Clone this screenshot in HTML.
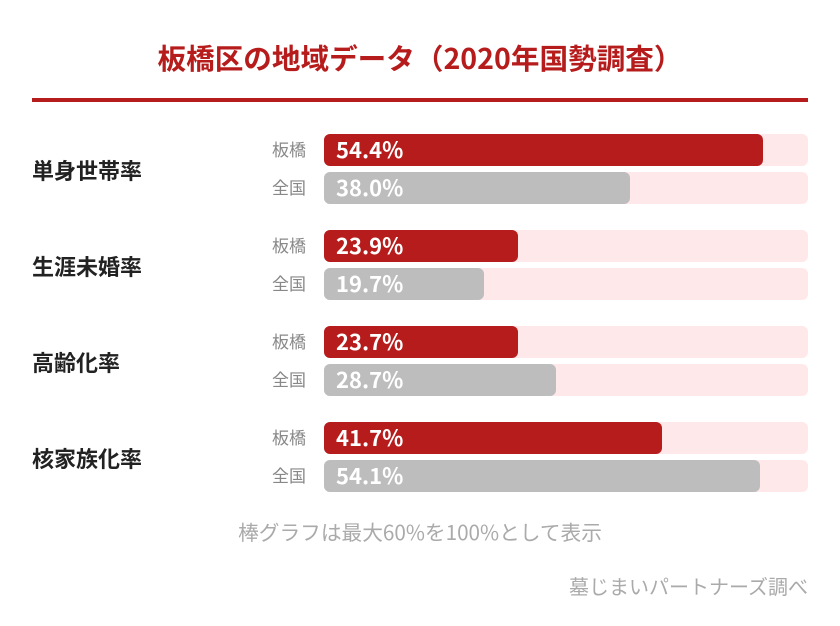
<!DOCTYPE html>
<html><head><meta charset="utf-8"><style>
body{margin:0;width:840px;height:626px;background:#fff;font-family:"Noto Sans CJK JP",sans-serif;position:relative;overflow:hidden}
.t{position:absolute;left:0;width:840px;top:38px;text-align:center;font-size:28.6px;font-weight:bold;color:#b71c1c;line-height:40px}
.ln{position:absolute;left:32px;width:776px;top:98px;height:4px;background:#b71c1c}
.cat{position:absolute;left:32px;font-size:22px;font-weight:bold;color:#222;line-height:30px}
.lb{position:absolute;left:272px;font-size:17px;color:#888;line-height:30px}
.tr{position:absolute;left:324px;width:484px;height:32px;background:#ffe8ea;border-radius:6px}
.b{position:absolute;left:0;top:0;height:32px;border-radius:6px;color:#fff;font-family:"Noto Sans CJK JP",sans-serif;font-weight:bold;font-size:22px;line-height:31px;padding-left:12px;box-sizing:border-box;white-space:nowrap}
.r{background:#b71c1c}.g{background:#bdbdbd}
.fn{position:absolute;left:0;width:840px;top:516px;text-align:center;font-size:20.7px;color:#aaa;line-height:30px}
.src{position:absolute;right:32px;top:571px;font-size:20px;color:#aaa;line-height:30px}
</style></head><body>
<div class="t">板橋区の地域データ（2020年国勢調査）</div>
<div class="ln"></div>

<div class="cat" style="top:155px">単身世帯率</div>
<div class="lb" style="top:134px">板橋</div><div class="tr" style="top:134px"><div class="b r" style="width:439px">54.4%</div></div>
<div class="lb" style="top:172px">全国</div><div class="tr" style="top:172px"><div class="b g" style="width:306px">38.0%</div></div>

<div class="cat" style="top:251px">生涯未婚率</div>
<div class="lb" style="top:230px">板橋</div><div class="tr" style="top:230px"><div class="b r" style="width:194px">23.9%</div></div>
<div class="lb" style="top:268px">全国</div><div class="tr" style="top:268px"><div class="b g" style="width:160px">19.7%</div></div>

<div class="cat" style="top:347px">高齢化率</div>
<div class="lb" style="top:326px">板橋</div><div class="tr" style="top:326px"><div class="b r" style="width:194px">23.7%</div></div>
<div class="lb" style="top:364px">全国</div><div class="tr" style="top:364px"><div class="b g" style="width:232px">28.7%</div></div>

<div class="cat" style="top:443px">核家族化率</div>
<div class="lb" style="top:422px">板橋</div><div class="tr" style="top:422px"><div class="b r" style="width:338px">41.7%</div></div>
<div class="lb" style="top:460px">全国</div><div class="tr" style="top:460px"><div class="b g" style="width:436px">54.1%</div></div>

<div class="fn">棒グラフは最大60%を100%として表示</div>
<div class="src">墓じまいパートナーズ調べ</div>
</body></html>
